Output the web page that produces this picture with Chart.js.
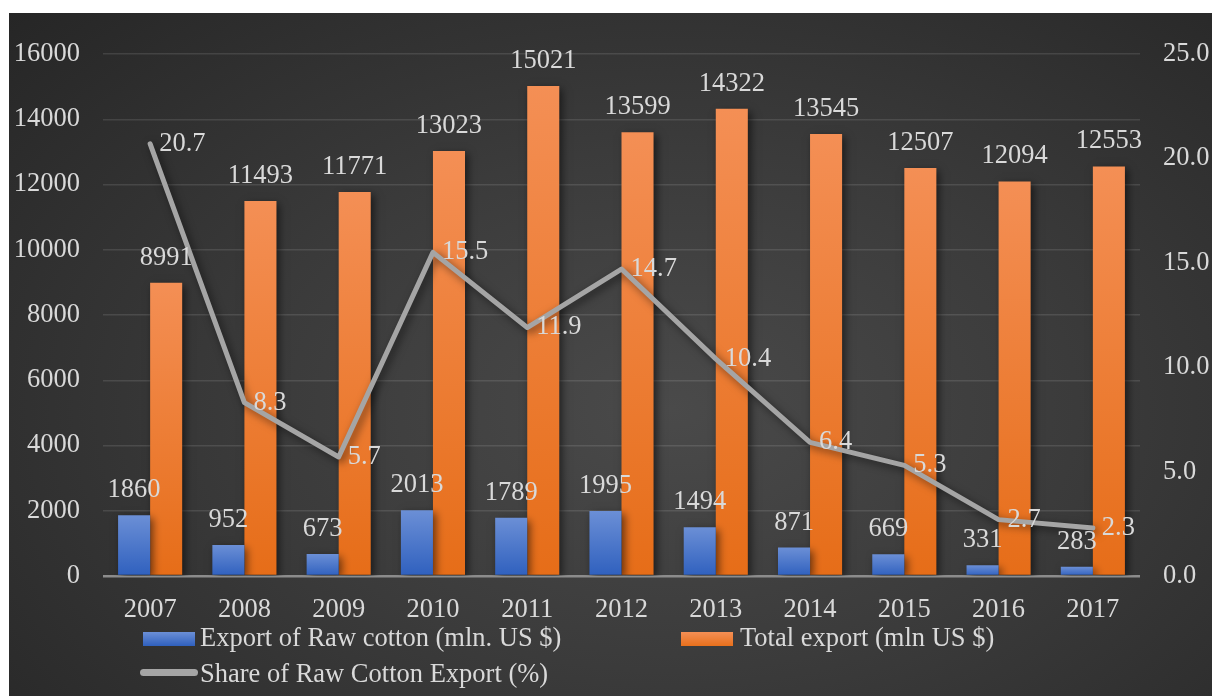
<!DOCTYPE html>
<html>
<head>
<meta charset="utf-8">
<script src="https://cdn.jsdelivr.net/npm/chart.js@4/dist/chart.umd.min.js"></script>
<style>
  body { margin: 0; background: #ffffff; }
  #wrap {
    position: absolute; left: 9px; top: 13px; width: 1203px; height: 683px;
    background: radial-gradient(ellipse 75% 85% at 55% 58%, #4a4a4a 0%, #3b3b3b 45%, #262626 100%);
    font-family: "Liberation Serif", "Times New Roman", serif;
  }
  #box { position: absolute; left: 0; top: 0; width: 1203px; height: 683px; }
  .lg { position: absolute; color: #d9d9d9; font-size: 26.5px; line-height: 30px; white-space: nowrap; }
  .sw { position: absolute; }
</style>
</head>
<body>
<div id="wrap">
  <div id="box"><canvas id="myChart"></canvas></div>
  <div class="sw" style="left:134px;top:619px;width:52px;height:14px;background:linear-gradient(#6b8fd6,#2f60be);"></div>
  <div class="lg" id="lg0" style="left:191px;top:609px;"></div>
  <div class="sw" style="left:672px;top:619px;width:52px;height:14px;background:linear-gradient(#f48f55,#e8701c);"></div>
  <div class="lg" id="lg1" style="left:731px;top:609px;"></div>
  <div class="sw" style="left:131px;top:656px;width:58px;height:7px;border-radius:4px;background:#a5a5a5;"></div>
  <div class="lg" id="lg2" style="left:191px;top:645px;"></div>
</div>
<script>
// data
var years = ['2007','2008','2009','2010','2011','2012','2013','2014','2015','2016','2017'];
var rawCotton = [1860, 952, 673, 2013, 1789, 1995, 1494, 871, 669, 331, 283];
var totalExport = [8991, 11493, 11771, 13023, 15021, 13599, 14322, 13545, 12507, 12094, 12553];
var shareRaw = [20.7, 8.3, 5.7, 15.5, 11.9, 14.7, 10.4, 6.4, 5.3, 2.7, 2.3];
var names = ['Export of Raw cotton (mln. US $)', 'Total export (mln US $)', 'Share of Raw Cotton Export (%)'];

var FONT = '"Liberation Serif", "Times New Roman", serif';
var TXT = '#d9d9d9';

document.getElementById('lg0').textContent = names[0];
document.getElementById('lg1').textContent = names[1];
document.getElementById('lg2').textContent = names[2];

// gradient per bar, light at top, dark at bottom
function barGrad(top, bottom) {
  return function (c) {
    var ch = c.chart;
    if (!ch.chartArea || c.type !== 'data') return bottom;
    var y = ch.scales.y;
    var yt = y.getPixelForValue(c.raw), yb = y.getPixelForValue(0);
    if (!isFinite(yt) || yt === yb) return bottom;
    var g = ch.ctx.createLinearGradient(0, yt, 0, yb);
    g.addColorStop(0, top);
    g.addColorStop(1, bottom);
    return g;
  };
}

// soft shadow under bars and line
var shadows = {
  id: 'shadows',
  beforeDatasetDraw: function (chart) {
    var ctx = chart.ctx;
    ctx.save();
    ctx.shadowColor = 'rgba(0,0,0,0.55)';
    ctx.shadowBlur = 8;
    ctx.shadowOffsetX = 3;
    ctx.shadowOffsetY = 3;
  },
  afterDatasetDraw: function (chart) {
    chart.ctx.restore();
  }
};

// value labels
var valueLabels = {
  id: 'valueLabels',
  afterDatasetsDraw: function (chart) {
    var ctx = chart.ctx;
    ctx.save();
    ctx.font = '26.5px ' + FONT;
    ctx.fillStyle = TXT;
    chart.data.datasets.forEach(function (ds, i) {
      var meta = chart.getDatasetMeta(i);
      meta.data.forEach(function (el, j) {
        var v = ds.data[j];
        if (ds.type === 'line') {
          ctx.textAlign = 'left';
          ctx.textBaseline = 'middle';
          ctx.fillText(v.toFixed(1), el.x + 9, el.y);
        } else {
          ctx.textAlign = 'center';
          ctx.textBaseline = 'middle';
          ctx.fillText(String(v), el.x, el.y - 25);
        }
      });
    });
    ctx.restore();
  }
};

var ctx = document.getElementById('myChart');
var myChart = new Chart(ctx, {
  type: 'bar',
  data: {
    labels: years,
    datasets: [
      {
        type: 'line',
        label: names[2],
        data: shareRaw,
        yAxisID: 'y2',
        borderColor: '#a5a5a5',
        borderWidth: 5,
        borderCapStyle: 'round',
        borderJoinStyle: 'round',
        pointRadius: 0,
        fill: false,
        order: 0
      },
      {
        label: names[0],
        data: rawCotton,
        yAxisID: 'y',
        backgroundColor: barGrad('#6b8fd6', '#2f60be'),
        order: 1
      },
      {
        label: names[1],
        data: totalExport,
        yAxisID: 'y',
        backgroundColor: barGrad('#f48f55', '#e66d18'),
        order: 1
      }
    ]
  },
  plugins: [shadows, valueLabels],
  options: {
    responsive: true,
    maintainAspectRatio: false,
    animation: false,
    layout: { padding: { top: 41, right: 0, bottom: 0, left: 0 } },
    datasets: { bar: { categoryPercentage: 0.68, barPercentage: 1 } },
    plugins: { legend: { display: false }, tooltip: { enabled: false } },
    scales: {
      x: {
        grid: { display: false },
        border: { display: false },
        ticks: { color: TXT, font: { family: FONT, size: 26.5 }, padding: 10, maxRotation: 0 },
        afterFit: function (s) { s.height = 120; }
      },
      y: {
        position: 'left',
        min: 0, max: 16000,
        ticks: {
          stepSize: 2000, color: TXT, font: { family: FONT, size: 26.5 }, padding: 23,
          callback: function (v) { return String(v); }
        },
        grid: {
          drawTicks: false,
          color: function (c) { return c.tick && c.tick.value === 0 ? '#8c8c8c' : 'rgba(255,255,255,0.11)'; },
          lineWidth: function (c) { return c.tick && c.tick.value === 0 ? 2.5 : 1.5; }
        },
        border: { display: false },
        afterFit: function (s) { s.width = 94; }
      },
      y2: {
        position: 'right',
        min: 0, max: 25,
        ticks: {
          stepSize: 5, color: TXT, font: { family: FONT, size: 26.5 }, padding: 23,
          callback: function (v) { return Number(v).toFixed(1); }
        },
        grid: { display: false, drawTicks: false },
        border: { display: false },
        afterFit: function (s) { s.width = 72; }
      }
    }
  }
});
</script>
</body>
</html>
